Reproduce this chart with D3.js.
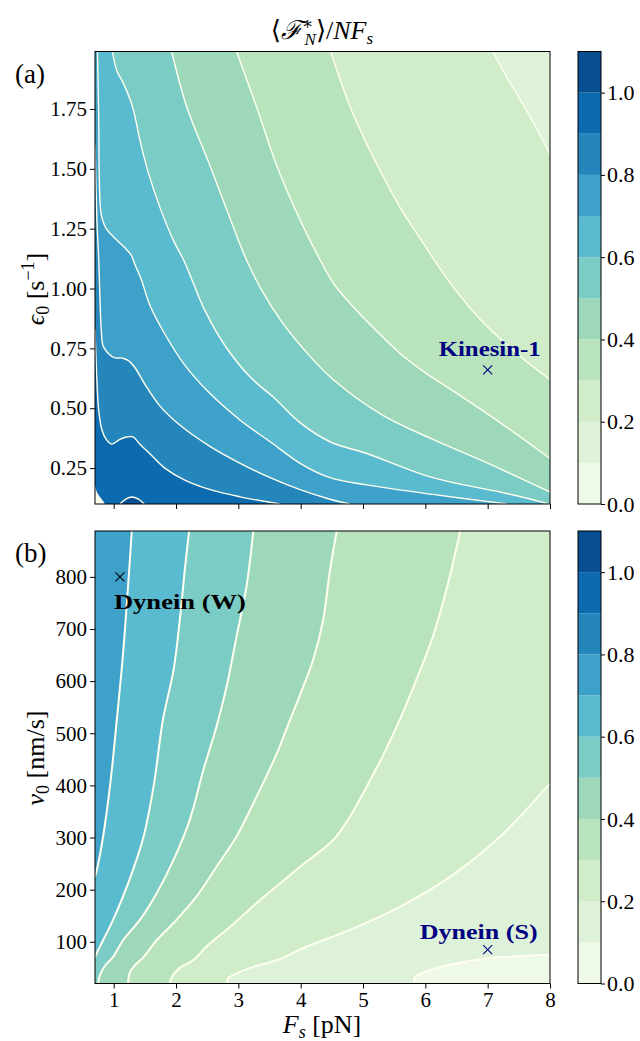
<!DOCTYPE html>
<html>
<head>
<meta charset="utf-8">
<script src="https://cdn.jsdelivr.net/npm/d3@7"></script>
<style>
  body { margin: 0; background: #fff; }
  text { font-family: "Liberation Serif", "DejaVu Serif", serif; fill: #000; }
</style>
</head>
<body>
<svg id="chart" width="640" height="1041"></svg>
<script>
// contour levels and the GnBu band colours (one per band)
const levels = [0, 0.1, 0.2, 0.3, 0.4, 0.5, 0.6, 0.7, 0.8, 0.9, 1.0, 1.1];
const bandColors = ["#eff9e8", "#def2d9", "#d0ecc9", "#b8e3bc", "#9cd8b9", "#7bccc4",
  "#5abacf", "#3ea1ca", "#2586bb", "#0b6bae", "#084f91"];
const cbarTicks = [0, 0.2, 0.4, 0.6, 0.8, 1.0];

const fsTicks = [1, 2, 3, 4, 5, 6, 7, 8];
const epsTicks = [0.25, 0.5, 0.75, 1.0, 1.25, 1.5, 1.75];
const v0Ticks = [100, 200, 300, 400, 500, 600, 700, 800];
const fsDomain = [0.7, 8];
const epsDomain = [0.1, 1.99];
const v0Domain = [20, 888];

// panel (a): contour lines as [Fs, eps0]
const eps_c02 = [[7.08,1.99],[7.29,1.89],[7.52,1.79],[7.76,1.68],[8.0,1.56]];
const eps_c03 = [[4.48,1.99],[4.79,1.76],[5.03,1.62],[5.30,1.48],[5.59,1.34],[5.94,1.20],[6.35,1.04],
  [6.78,0.90],[7.20,0.79],[7.60,0.70],[8.0,0.62]];
const eps_c04 = [[2.97,1.99],[3.29,1.76],[3.62,1.51],[4.02,1.27],[4.31,1.12],[4.53,1.02],[4.82,0.93],
  [5.19,0.83],[5.59,0.73],[5.99,0.65],[6.40,0.58],[7.20,0.44],[8.0,0.29]];
const eps_c05 = [[1.93,1.99],[2.17,1.76],[2.55,1.51],[2.87,1.29],[3.13,1.12],[3.38,0.99],[3.70,0.86],
  [4.07,0.74],[4.52,0.62],[5.32,0.47],[6.12,0.37],[6.92,0.28],[8.0,0.15]];
const eps_c06 = [[0.98,1.99],[1.05,1.91],[1.15,1.86],[1.29,1.77],[1.34,1.72],[1.42,1.62],[1.56,1.48],
  [1.74,1.34],[1.96,1.20],[2.12,1.12],[2.25,1.04],[2.46,0.91],[2.79,0.76],[3.19,0.63],[3.59,0.54],
  [3.99,0.44],[4.47,0.36],[5.07,0.31],[6.12,0.21],[7.20,0.15],[7.84,0.11],[7.97,0.10]];
const eps_c07 = [[0.74,1.99],[0.76,1.70],[0.77,1.45],[0.80,1.31],[0.88,1.25],[1.02,1.21],[1.18,1.17],
  [1.28,1.14],[1.34,1.10],[1.44,1.04],[1.58,0.93],[1.82,0.81],[2.14,0.68],[2.55,0.56],[3.03,0.45],
  [3.51,0.36],[3.99,0.27],[4.47,0.21],[5.06,0.18],[6.12,0.14],[7.31,0.10]];
const eps_c08 = [[0.70,1.60],[0.73,1.29],[0.76,1.12],[0.78,0.95],[0.80,0.83],[0.83,0.76],[0.91,0.73],
  [1.02,0.71],[1.13,0.71],[1.23,0.70],[1.34,0.67],[1.50,0.60],[1.74,0.51],[2.06,0.43],[2.55,0.34],
  [3.03,0.27],[3.51,0.21],[3.99,0.16],[4.47,0.12],[4.79,0.10]];
const eps_c09 = [[0.70,0.83],[0.73,0.62],[0.76,0.49],[0.81,0.41],[0.88,0.37],[0.97,0.35],[1.10,0.37],
  [1.21,0.38],[1.31,0.38],[1.42,0.35],[1.58,0.31],[1.82,0.25],[2.14,0.20],[2.55,0.16],[3.03,0.13],[3.67,0.10]];
const eps_c10 = [[1.10,0.10],[1.20,0.121],[1.29,0.129],[1.39,0.121],[1.49,0.10]];
const eps_gap = [[0.70,0.179],[0.73,0.150],[0.78,0.129],[0.83,0.113],[0.86,0.10]];

// panel (b): contour lines as [Fs, v0]
const v_c01 = [[8.0,75],[6.98,68],[6.40,56],[5.99,42],[5.83,31],[5.82,20]];
const v_c02 = [[8.0,404],[7.20,302],[6.40,225],[5.59,167],[4.79,123],[4.10,91],[3.62,65],[3.19,50],
  [2.95,38],[2.83,29],[2.83,20]];
const v_c03 = [[6.56,888],[6.35,781],[6.12,685],[5.81,589],[5.59,526],[5.34,462],[5.06,398],[4.79,340],
  [4.52,295],[4.25,268],[3.99,244],[3.72,217],[3.29,174],[2.87,129],[2.49,91],[2.28,65],[2.06,50],
  [1.94,34],[1.90,20]];
const v_c04 = [[4.58,888],[4.47,813],[4.36,717],[4.20,641],[4.04,589],[3.83,526],[3.62,462],[3.29,378],
  [2.97,302],[2.65,244],[2.33,187],[1.96,136],[1.69,103],[1.48,71],[1.34,55],[1.26,42],[1.23,20]];
const v_c05 = [[3.24,888],[3.13,781],[2.97,685],[2.81,589],[2.65,513],[2.44,430],[2.22,334],[1.96,257],
  [1.69,193],[1.42,142],[1.15,103],[0.99,71],[0.86,54],[0.78,36],[0.75,20]];
const v_c06 = [[2.21,888],[2.14,813],[2.06,717],[1.96,621],[1.79,526],[1.64,398],[1.48,302],[1.31,238],
  [1.15,187],[0.99,142],[0.83,103],[0.73,79],[0.70,71]];
const v_c07 = [[1.29,888],[1.23,781],[1.15,653],[1.05,526],[0.94,398],[0.83,302],[0.73,238],[0.70,225]];

// motors marked on the maps
const kinesin = { name: "Kinesin-1", fs: 7.0, val: 0.66 };
const dyneinW = { name: "Dynein (W)", fs: 1.1, val: 800 };
const dyneinS = { name: "Dynein (S)", fs: 7.0, val: 85 };

const lineColor = "#fffff0";
const dims = { left: 95, right: 550, cbL: 578, cbR: 601 };

const panels = [
  { key: "(a)", top: 51.5, bottom: 504, yDomain: epsDomain, yTicks: epsTicks, yFmt: d3.format(".2f"),
    base: 1, lw: 1.4, showX: false,
    contours: [[0.2, eps_c02], [0.3, eps_c03], [0.4, eps_c04], [0.5, eps_c05], [0.6, eps_c06],
      [0.7, eps_c07], [0.8, eps_c08], [0.9, eps_c09], [1.0, eps_c10]],
    gap: eps_gap,
    marks: [{ m: kinesin, color: "#000080", dx: 2, dy: -14, anchor: "middle", len: 102 }] },
  { key: "(b)", top: 531, bottom: 983.5, yDomain: v0Domain, yTicks: v0Ticks, yFmt: d3.format("d"),
    base: 0, lw: 2, showX: true,
    contours: [[0.1, v_c01], [0.2, v_c02], [0.3, v_c03], [0.4, v_c04], [0.5, v_c05], [0.6, v_c06], [0.7, v_c07]],
    gap: null,
    marks: [{ m: dyneinW, color: "#000", dx: -6, dy: 32, anchor: "start", len: 132 },
            { m: dyneinS, color: "#000080", dx: -9, dy: -11, anchor: "middle", len: 118 }] }
];

const svg = d3.select("#chart");
const x = d3.scaleLinear().domain(fsDomain).range([dims.left, dims.right]);

// corners met when walking clockwise along the frame from the line's end back to its start
function frameCorners(pts, x0, y0, x1, y1) {
  const W = x1 - x0, H = y1 - y0, P = 2 * W + 2 * H;
  const t = ([px, py]) => {
    if (Math.abs(py - y0) < 1) return px - x0;
    if (Math.abs(px - x1) < 1) return W + py - y0;
    if (Math.abs(py - y1) < 1) return W + H + x1 - px;
    return 2 * W + H + y1 - py;
  };
  const mod = v => ((v % P) + P) % P;
  const tE = t(pts[pts.length - 1]), tS = t(pts[0]);
  const span = mod(tS - tE);
  return [[0, [x0, y0]], [W, [x1, y0]], [W + H, [x1, y1]], [2 * W + H, [x0, y1]]]
    .map(([c, p]) => [mod(c - tE), p])
    .filter(([d]) => d > 0 && d < span)
    .sort((a, b) => a[0] - b[0])
    .map(d => d[1]);
}

panels.forEach((p, pi) => {
  const y = d3.scaleLinear().domain(p.yDomain).range([p.bottom, p.top]);
  const x0 = dims.left, x1 = dims.right, y0 = p.top, y1 = p.bottom;
  const clipId = "clip" + pi;
  svg.append("clipPath").attr("id", clipId).append("rect")
    .attr("x", x0).attr("y", y0).attr("width", x1 - x0).attr("height", y1 - y0);

  const g = svg.append("g").attr("clip-path", `url(#${clipId})`);
  g.append("rect").attr("x", x0).attr("y", y0).attr("width", x1 - x0).attr("height", y1 - y0)
    .attr("fill", bandColors[p.base]);

  const lineGen = d3.line().x(d => x(d[0])).y(d => y(d[1])).curve(d3.curveCatmullRom.alpha(0.5));
  const fillPath = pts => {
    const extra = frameCorners(pts.map(d => [x(d[0]), y(d[1])]), x0, y0, x1, y1);
    return lineGen(pts) + extra.map(q => `L${q[0]},${q[1]}`).join("") + "Z";
  };

  p.contours.forEach(([lev, pts]) => {
    g.append("path").attr("d", fillPath(pts)).attr("fill", bandColors[Math.round(lev * 10)]);
  });
  if (p.gap) g.append("path").attr("d", fillPath(p.gap)).attr("fill", lineColor);

  p.contours.forEach(([lev, pts]) => {
    g.append("path").attr("d", lineGen(pts)).attr("fill", "none")
      .attr("stroke", lineColor).attr("stroke-width", p.lw);
  });

  // markers and names
  p.marks.forEach(k => {
    const cx = x(k.m.fs), cy = y(k.m.val), r = 4.5;
    svg.append("path")
      .attr("d", `M${cx - r},${cy - r}L${cx + r},${cy + r}M${cx + r},${cy - r}L${cx - r},${cy + r}`)
      .attr("stroke", k.color).attr("stroke-width", 1.1).attr("fill", "none");
    svg.append("text").attr("x", cx + k.dx).attr("y", cy + k.dy)
      .attr("text-anchor", k.anchor).attr("font-size", 22).attr("font-weight", "bold")
      .attr("textLength", k.len).attr("lengthAdjust", "spacingAndGlyphs")
      .style("fill", k.color).text(k.m.name);
  });

  // frame and axes
  svg.append("rect").attr("x", x0).attr("y", y0).attr("width", x1 - x0).attr("height", y1 - y0)
    .attr("fill", "none").attr("stroke", "#000").attr("stroke-width", 1);

  const yAxis = svg.append("g").attr("transform", `translate(${x0},0)`)
    .call(d3.axisLeft(y).tickValues(p.yTicks).tickFormat(p.yFmt).tickSize(5).tickPadding(3));
  const xAxis = svg.append("g").attr("transform", `translate(0,${y1})`)
    .call(d3.axisBottom(x).tickValues(fsTicks).tickSize(5).tickPadding(4)
      .tickFormat(p.showX ? d3.format("d") : () => ""));
  [yAxis, xAxis].forEach(a => {
    a.select(".domain").remove();
    a.selectAll("text").attr("font-size", 21).attr("font-family", null);
  });

  svg.append("text").attr("x", 15).attr("y", y0 + 31).attr("font-size", 27).text(p.key);

  // colourbar
  const c = d3.scaleLinear().domain([levels[0], levels[levels.length - 1]]).range([y1, y0]);
  svg.append("g").selectAll("rect")
    .data(bandColors)
    .enter()
    .append("rect")
    .attr("x", dims.cbL).attr("width", dims.cbR - dims.cbL)
    .attr("y", (d, i) => c(levels[i + 1]))
    .attr("height", (d, i) => c(levels[i]) - c(levels[i + 1]))
    .attr("fill", d => d);
  svg.append("rect").attr("x", dims.cbL).attr("y", y0).attr("width", dims.cbR - dims.cbL)
    .attr("height", y1 - y0).attr("fill", "none").attr("stroke", "#000").attr("stroke-width", 1);
  const cAxis = svg.append("g").attr("transform", `translate(${dims.cbR},0)`)
    .call(d3.axisRight(c).tickValues(cbarTicks).tickFormat(d3.format(".1f")).tickSize(4).tickPadding(2));
  cAxis.select(".domain").remove();
  cAxis.selectAll("text").attr("font-size", 22).attr("font-family", null);
});

// axis titles
svg.append("text").attr("transform", "translate(44,289) rotate(-90)").attr("text-anchor", "middle")
  .attr("font-size", 26)
  .call(t => {
    t.append("tspan").attr("font-style", "italic").text("ϵ");
    t.append("tspan").attr("font-size", 18).attr("dy", 5).text("0");
    t.append("tspan").attr("dy", -5).text(" [s");
    t.append("tspan").attr("font-size", 18).attr("dy", -10).text("−1");
    t.append("tspan").attr("dy", 10).text("]");
  });
svg.append("text").attr("transform", "translate(44,758) rotate(-90)").attr("text-anchor", "middle")
  .attr("font-size", 26)
  .call(t => {
    t.append("tspan").attr("font-style", "italic").text("v");
    t.append("tspan").attr("font-size", 18).attr("dy", 5).text("0");
    t.append("tspan").attr("dy", -5).text(" [nm/s]");
  });
svg.append("text").attr("x", 322).attr("y", 1033).attr("text-anchor", "middle").attr("font-size", 26)
  .call(t => {
    t.append("tspan").attr("font-style", "italic").text("F");
    t.append("tspan").attr("font-size", 18).attr("font-style", "italic").attr("dy", 5).text("s");
    t.append("tspan").attr("dy", -5).text(" [pN]");
  });

// title
svg.append("text").attr("x", 322).attr("y", 39).attr("text-anchor", "middle").attr("font-size", 26)
  .call(t => {
    t.append("tspan").text("⟨");
    t.append("tspan").attr("font-style", "italic").text("ℱ");
    t.append("tspan").attr("font-size", 17).attr("dy", -10).text("∗");
    t.append("tspan").attr("font-size", 17).attr("font-style", "italic").attr("dx", -9).attr("dy", 16).text("N");
    t.append("tspan").attr("dy", -6).text("⟩/");
    t.append("tspan").attr("font-style", "italic").text("NF");
    t.append("tspan").attr("font-size", 17).attr("font-style", "italic").attr("dy", 5).text("s");
  });
</script>
</body>
</html>
